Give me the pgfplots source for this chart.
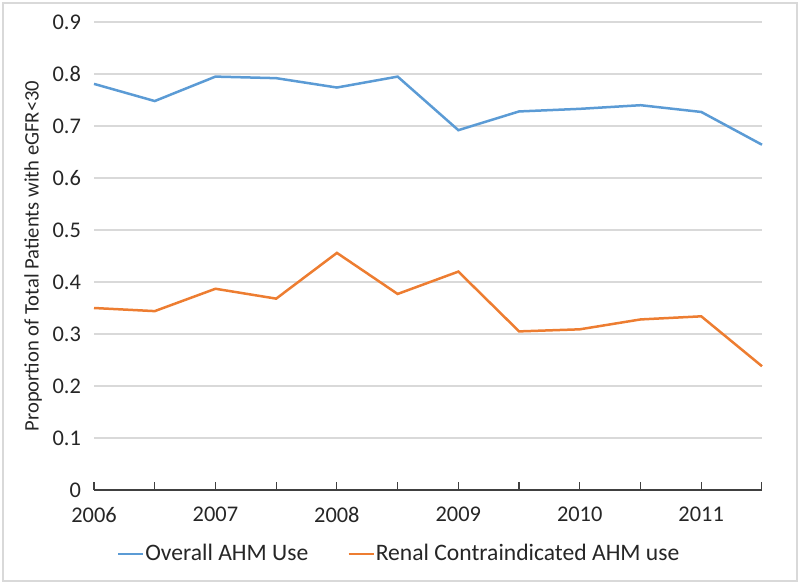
\documentclass[border=0pt]{standalone}
\usepackage{fontspec}
\setmainfont{Carlito}
\usepackage{pgfplots}
\pgfplotsset{compat=1.18}
\definecolor{cblue}{HTML}{5B9BD5}
\definecolor{corange}{HTML}{ED7D31}
\definecolor{cgrid}{HTML}{D9D9D9}
\begin{document}
\begin{tikzpicture}
\useasboundingbox (0,0) rectangle (400pt,292pt);
\draw[cgrid, line width=0.6pt] (1.5pt,1.5pt) rectangle (398.5pt,290.5pt);
\begin{axis}[
  at={(47pt,47pt)}, anchor=south west,
  scale only axis, width=334pt, height=234pt,
  xmin=2006, xmax=2011.5, ymin=0, ymax=0.9,
  xtick={2006,2006.5,...,2011.5},
  xticklabels={2006,,2007,,2008,,2009,,2010,,2011,},
  ytick={0,0.1,...,0.9},
  yticklabels={0,0.1,0.2,0.3,0.4,0.5,0.6,0.7,0.8,0.9},
  /pgf/number format/assume math mode=true,
  axis x line*=bottom, axis y line*=left,
  y axis line style={draw=none},
  x axis line style={draw=black!75, line width=0.6pt, -},
  xtick style={draw=black!75, line width=0.6pt},
  xtick align=inside, major tick length=4pt,
  ymajorgrids, grid style={cgrid, line width=0.6pt},
  ytick style={draw=none},
  tick label style={font=\fontsize{11.2}{13}\selectfont, text=black!85},
  xticklabel style={yshift=-5pt},
  yticklabel style={xshift=-3pt},
  ylabel={Proportion of Total Patients with eGFR<30},
  ylabel style={font=\fontsize{10.3}{12}\selectfont, text=black!85, at={(axis description cs:-0.0913,0.5)}, anchor=center},
  legend columns=2,
  legend style={draw=none, fill=none, at={(axis description cs:0.456,-0.137)}, anchor=center,
    font=\fontsize{11.8}{13}\selectfont, text=black!85,
    nodes={inner xsep=0.5pt},
    /tikz/every even column/.append style={column sep=19pt}},
  legend image code/.code={\draw[#1, line width=1.25pt] (0pt,0pt) -- (12.5pt,0pt);},
  clip=false,
]
\addplot[cblue, line width=1.25pt, mark=none] coordinates {
(2006,0.781) (2006.5,0.748) (2007,0.795) (2007.5,0.792) (2008,0.774) (2008.5,0.795)
(2009,0.692) (2009.5,0.728) (2010,0.733) (2010.5,0.740) (2011,0.727) (2011.5,0.664)};
\addlegendentry{Overall AHM Use}
\addplot[corange, line width=1.25pt, mark=none] coordinates {
(2006,0.350) (2006.5,0.344) (2007,0.387) (2007.5,0.368) (2008,0.456) (2008.5,0.377)
(2009,0.420) (2009.5,0.305) (2010,0.309) (2010.5,0.328) (2011,0.334) (2011.5,0.238)};
\addlegendentry{Renal Contraindicated AHM use}
\end{axis}
\end{tikzpicture}
\end{document}
